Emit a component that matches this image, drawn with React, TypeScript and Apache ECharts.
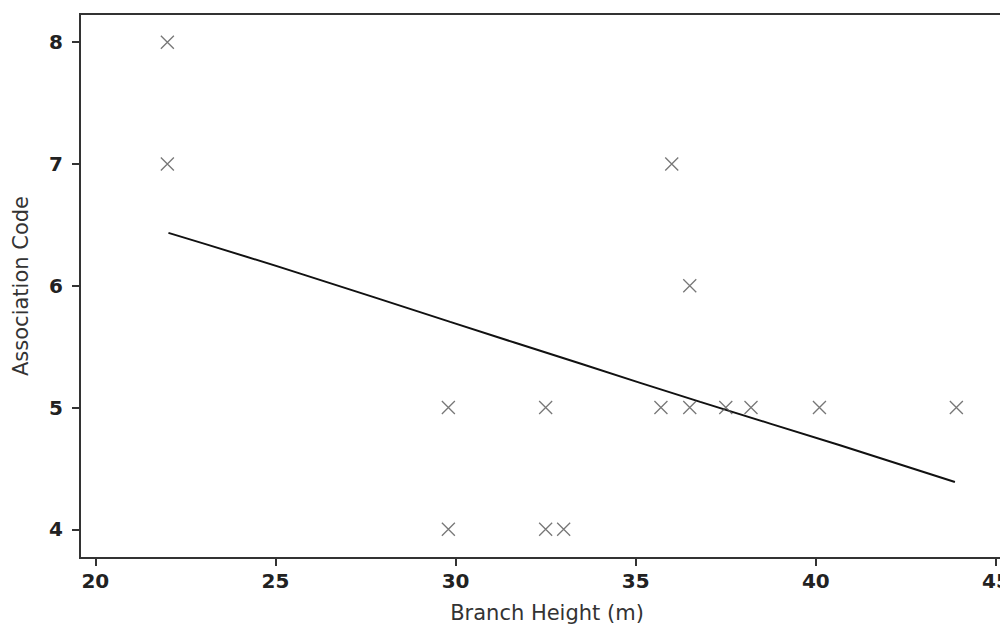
import React, { useEffect, useRef } from "react";
import * as echarts from "echarts";

const branchHeight = [22.0, 22.0, 29.8, 29.8, 32.5, 32.5, 33.0, 35.7, 36.0, 36.5, 36.5, 37.5, 38.2, 40.1, 43.9];
const associationCode = [8, 7, 5, 4, 5, 4, 4, 5, 7, 6, 5, 5, 5, 5, 5];

const fitX = [22.03, 25.69, 29.85, 33.46, 36.79, 40.67, 43.86];
const fitY = [6.434, 6.1, 5.703, 5.361, 5.046, 4.69, 4.388];

const xTicks = [20, 25, 30, 35, 40, 45];
const yTicks = [4, 5, 6, 7, 8];

const FONT = "'DejaVu Sans', Verdana, sans-serif";

export default function App() {
  const ref = useRef<HTMLDivElement>(null);
  useEffect(() => {
    if (!ref.current) return;
    const chart = echarts.init(ref.current, null, { renderer: "svg" });
    const axisLine = { show: true, lineStyle: { color: "#333", width: 2 } };
    const axisTick = { show: true, length: 8, lineStyle: { color: "#333", width: 2 } };
    chart.setOption({
      animation: false,
      backgroundColor: "#fff",
      grid: {
        left: 80,
        top: 14,
        width: 934,
        height: 544,
        show: true,
        borderColor: "#333",
        borderWidth: 2,
        containLabel: false,
        outerBoundsMode: "none",
      },
      xAxis: {
        type: "value",
        min: 19.575,
        max: 45.5,
        name: "Branch Height (m)",
        nameLocation: "middle",
        nameGap: 44,
        nameTextStyle: { fontFamily: FONT, fontSize: 21, color: "#333" },
        axisLine,
        axisTick: { ...axisTick, customValues: xTicks },
        axisLabel: {
          customValues: xTicks,
          margin: 13,
          fontFamily: FONT,
          fontSize: 20,
          fontWeight: "bold",
          color: "#222",
        },
        splitLine: { show: false },
      },
      yAxis: {
        type: "value",
        min: 3.764,
        max: 8.232,
        name: "Association Code",
        nameLocation: "middle",
        nameGap: 49,
        nameTextStyle: { fontFamily: FONT, fontSize: 21, color: "#333" },
        axisLine,
        axisTick: { ...axisTick, customValues: yTicks },
        axisLabel: {
          customValues: yTicks,
          margin: 17,
          fontFamily: FONT,
          fontSize: 20,
          fontWeight: "bold",
          color: "#222",
        },
        splitLine: { show: false },
      },
      series: [
        {
          type: "scatter",
          data: branchHeight.map((x, i) => [x, associationCode[i]]),
          symbol: "path://M0,0L10,10M10,0L0,10",
          symbolSize: 13,
          itemStyle: { color: "none", borderColor: "#555", borderWidth: 1.3 },
          z: 3,
        },
        {
          type: "line",
          data: fitX.map((x, i) => [x, fitY[i]]),
          smooth: true,
          showSymbol: false,
          symbol: "none",
          lineStyle: { color: "#111", width: 2 },
          z: 2,
        },
      ],
    });
    return () => chart.dispose();
  }, []);
  return (
    <div
      ref={ref}
      style={{ position: "absolute", left: 0, top: 0, width: 1000, height: 625 }}
    />
  );
}
